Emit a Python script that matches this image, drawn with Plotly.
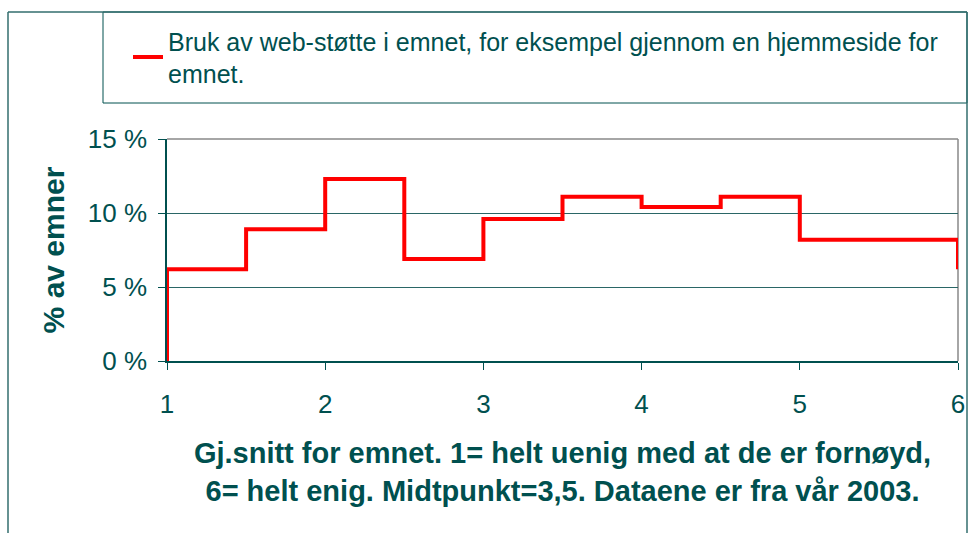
import plotly.graph_objects as go

# ---- data ----
x_steps = [1, 1, 1.5, 2, 2.5, 3, 3.5, 4, 4.5, 5, 6]
y_steps = [0, 6.2, 8.9, 12.3, 6.9, 9.6, 11.1, 10.4, 11.1, 8.2, 6.2]
series_name = "Bruk av web-støtte i emnet, for eksempel gjennom en hjemmeside for<br>emnet."
x_ticks = [1, 2, 3, 4, 5, 6]
y_ticks = [0, 5, 10, 15]
y_tick_labels = [f"{v} %" for v in y_ticks]
x_title = "Gj.snitt for emnet. 1= helt uenig med at de er fornøyd,<br>6= helt enig. Midtpunkt=3,5. Dataene er fra vår 2003."
y_title = "% av emner"

# ---- layout geometry ----
W, H = 970, 533
L, R, T, B = 167, 958, 139, 361
TEAL = "#00504f"
FONT = "Arial, Liberation Sans, sans-serif"


def px(xp):
    return (xp - L) / (R - L)


def py(yp):
    return (B - yp) / (B - T)


fig = go.Figure()
fig.add_trace(go.Scatter(
    x=x_steps, y=y_steps, mode="lines", line_shape="hv",
    line=dict(color="#ff0000", width=4), name=series_name,
    showlegend=True, cliponaxis=False,
))

shapes = [
    # legend box
    dict(type="rect", xref="paper", yref="paper", x0=px(103), x1=px(967), y0=py(103), y1=py(12),
         line=dict(color=TEAL, width=1), fillcolor="white", layer="below"),
    # outer frame
    dict(type="line", xref="paper", yref="paper", x0=px(8), x1=px(8), y0=py(540), y1=py(12),
         line=dict(color="#336e6e", width=1.5)),
    dict(type="line", xref="paper", yref="paper", x0=px(8), x1=px(967), y0=py(12), y1=py(12),
         line=dict(color="#336e6e", width=1.5)),
    dict(type="line", xref="paper", yref="paper", x0=px(967), x1=px(967), y0=py(540), y1=py(12),
         line=dict(color="#336e6e", width=1.5)),
    # plot-area top and right borders (grey)
    dict(type="line", xref="x domain", yref="y domain", x0=0, x1=1, y0=1, y1=1,
         line=dict(color="#888888", width=1.5), layer="above"),
    dict(type="line", xref="x domain", yref="y domain", x0=1, x1=1, y0=0, y1=1,
         line=dict(color="#888888", width=1.5), layer="below"),
]

fig.update_layout(
    width=W, height=H,
    margin=dict(l=L, r=W - R, t=T, b=H - B, autoexpand=False),
    paper_bgcolor="white", plot_bgcolor="rgba(0,0,0,0)",
    font=dict(family=FONT, color=TEAL, size=26),
    shapes=shapes,
    showlegend=True,
    legend=dict(
        x=px(128), y=py(18), xanchor="left", yanchor="top",
        bgcolor="rgba(0,0,0,0)", borderwidth=0,
        font=dict(family=FONT, size=25, color=TEAL),
        itemwidth=30,
    ),
    xaxis=dict(
        range=[1, 6], tickvals=x_ticks, ticks="outside", ticklen=7, tickcolor=TEAL,
        showline=True, linecolor=TEAL, linewidth=1.5, showgrid=False, zeroline=False,
        tickfont=dict(size=26, color=TEAL), ticklabelstandoff=12, automargin=False,
        title=dict(text=x_title, font=dict(size=29, color=TEAL, weight="bold"), standoff=25),
    ),
    yaxis=dict(
        range=[0, 15], tickvals=y_ticks, ticktext=y_tick_labels, ticks="outside", ticklen=7,
        tickcolor=TEAL, automargin=False,
        showline=True, linecolor=TEAL, linewidth=1.5, showgrid=True, gridcolor="#2a6666", gridwidth=1,
        zeroline=False,
        tickfont=dict(size=26, color=TEAL), ticklabelstandoff=6,
        title=dict(text=y_title, font=dict(size=30, color=TEAL, weight="bold"), standoff=14),
    ),
)

fig.write_html("out.html", post_script="document.body.style.margin='0';",
               config={"displayModeBar": False})
